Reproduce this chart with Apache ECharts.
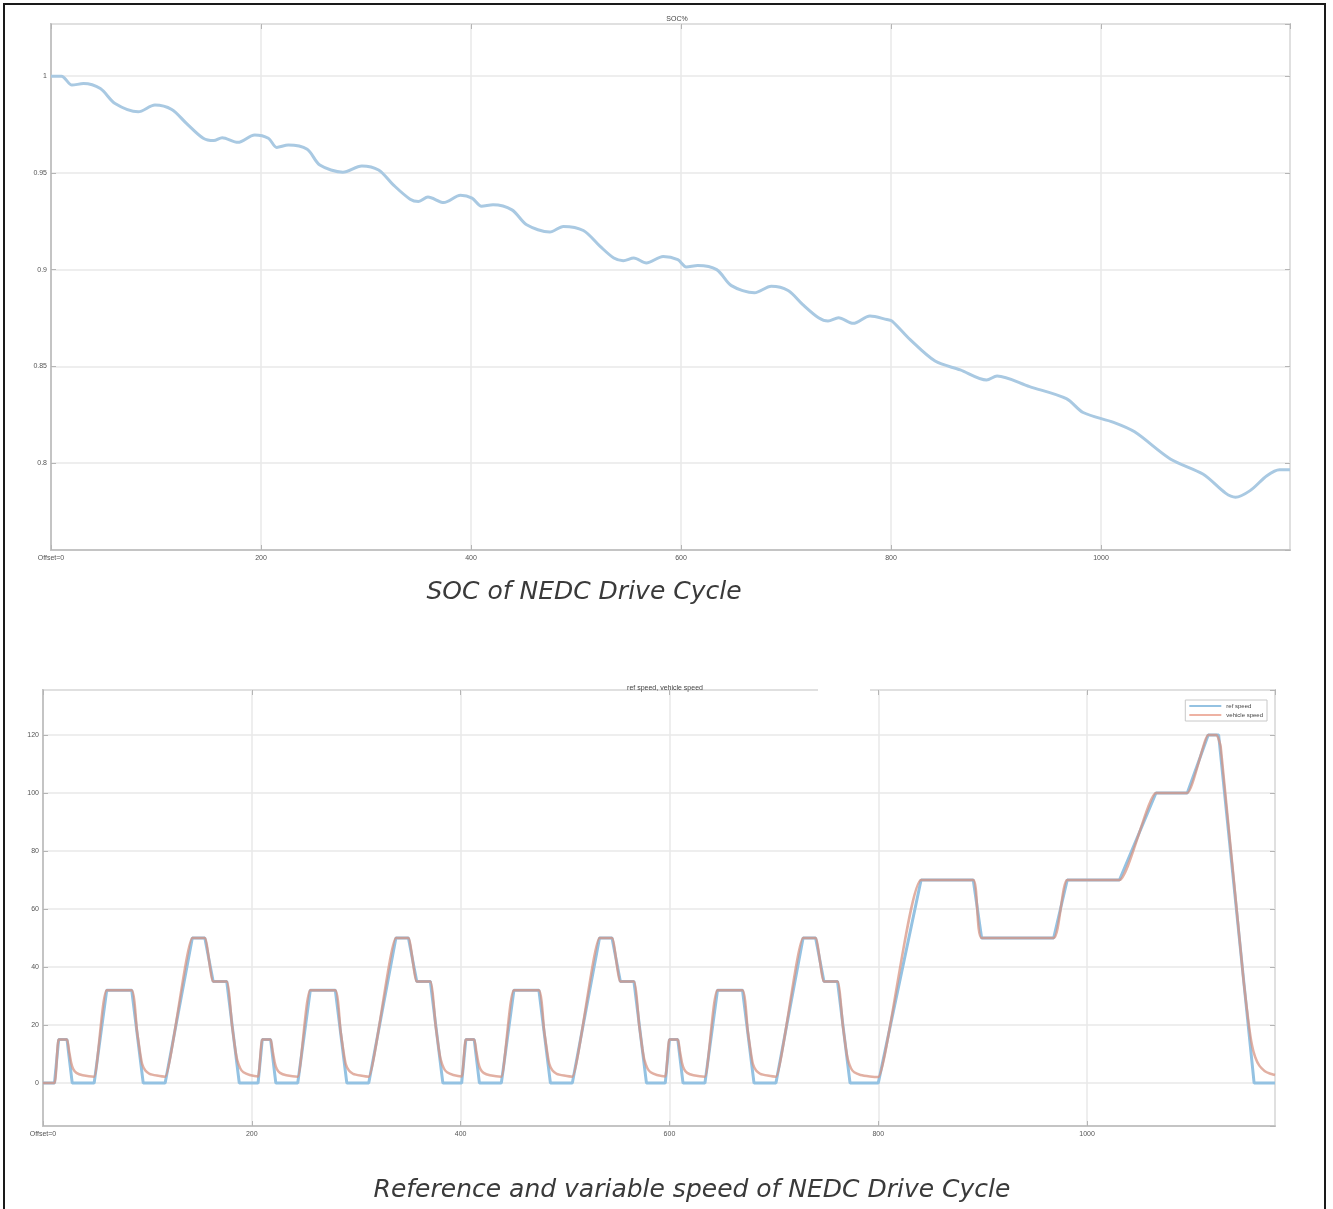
<!DOCTYPE html>
<html>
<head>
<meta charset="utf-8">
<script src="https://cdn.jsdelivr.net/npm/echarts@6/dist/echarts.min.js"></script>
<style>
html,body{margin:0;padding:0;background:#fff;}
#chart{width:1333px;height:1209px;}
</style>
</head>
<body>
<div id="chart"></div>
<script>
// ---- SOC of NEDC drive cycle ----
const socTime = [0,10,20,31,47,61,83,99,115,129,145,155,163,178,194,207,215,226,244,256,278,296,312,326,342,350,359,374,390,401,410,421,439,453,475,488,507,523,536,545,555,567,583,597,605,616,634,648,670,686,702,716,731,740,750,764,780,796,801,818,842,866,891,901,932,967,983,1012,1032,1066,1097,1128,1142,1158,1170,1180];
const socValue = [1.0,1.0,0.9954,0.9962,0.9936,0.9859,0.9816,0.9851,0.9828,0.9756,0.9679,0.9667,0.9682,0.9658,0.9696,0.9679,0.9632,0.9644,0.9622,0.9541,0.9504,0.9536,0.9515,0.9438,0.9364,0.9352,0.9375,0.9347,0.9384,0.9370,0.9328,0.9335,0.9309,0.9232,0.9194,0.9223,0.9202,0.9120,0.9060,0.9046,0.9060,0.9034,0.9068,0.9051,0.9014,0.9021,0.9000,0.8917,0.8880,0.8914,0.8892,0.8819,0.8751,0.8734,0.8751,0.8722,0.8760,0.8742,0.8734,0.8639,0.8527,0.8481,0.8429,0.8450,0.8395,0.8333,0.8261,0.8210,0.8161,0.8021,0.7943,0.7823,0.7857,0.7934,0.7965,0.7965];

// ---- Reference speed (km/h) ----
const refTime = [0,11,15,23,28,49,61,85,96,117,143,155,163,176,188,
  206,210,218,223,244,256,280,291,312,338,350,358,371,383,
  401,405,413,418,439,451,475,486,507,533,545,553,566,578,
  596,600,608,613,634,646,670,681,702,728,740,748,761,773,
  800,841,891,899,968,981,1031,1066,1096,1116,1126,1160,1180];
const refSpeed = [0,0,15,15,0,0,32,32,0,0,50,50,35,35,0,
  0,15,15,0,0,32,32,0,0,50,50,35,35,0,
  0,15,15,0,0,32,32,0,0,50,50,35,35,0,
  0,15,15,0,0,32,32,0,0,50,50,35,35,0,
  0,70,70,50,50,70,70,100,100,120,120,0,0];

// ---- Vehicle speed (km/h) ----
const vehTime = [0,11,15,23,25,27,29,32,38,49,61,85,90,93,95,98,102,109,117,143,155,163,176,181,184,186,189,192,198,206,
  210,218,220,222,224,227,233,244,256,280,285,288,290,293,297,304,312,338,350,358,371,376,379,381,384,387,393,401,
  405,413,415,417,419,422,428,439,451,475,480,483,485,488,492,499,507,533,545,553,566,571,574,576,579,582,588,596,
  600,608,610,612,614,617,623,634,646,670,675,678,680,683,687,694,702,728,740,748,761,766,769,771,774,777,783,792,800,
  841,891,899,968,981,1031,1066,1096,1116,1124,1128,1150,1155,1158,1161,1165,1170,1175,1180];
const vehSpeed = [0,0,15,15,11,7,4.8,3.5,2.7,2.2,32,32,18,10.5,6.5,4.3,3.2,2.6,2.2,50,50,35,35,20,12,8,5,3.7,2.8,2.3,
  15,15,11,7,4.8,3.5,2.7,2.2,32,32,18,10.5,6.5,4.3,3.2,2.6,2.2,50,50,35,35,20,12,8,5,3.7,2.8,2.3,
  15,15,11,7,4.8,3.5,2.7,2.2,32,32,18,10.5,6.5,4.3,3.2,2.6,2.2,50,50,35,35,20,12,8,5,3.7,2.8,2.3,
  15,15,11,7,4.8,3.5,2.7,2.2,32,32,18,10.5,6.5,4.3,3.2,2.6,2.2,50,50,35,35,20,12,8,5,3.7,2.8,2.3,2.1,
  70,70,50,50,70,70,100,100,120,120,116,35,20,13,9,6,4.2,3.3,2.8];

const xTickInterval = 200;

function pairs(a, b) { return a.map((t, i) => [t, b[i]]); }

const chart = echarts.init(document.getElementById('chart'), null, {renderer: 'canvas'});

const labelStyle = {fontSize: 7, color: '#555', fontFamily: 'Liberation Sans'};
const gridLineStyle = {color: '#e9e9e9', width: 1.5};
const axisLineStyle = {color: '#c4c4c4', width: 2};
const tickStyle = {color: '#b5b5b5', width: 1};

function xAxisMain(gridIndex) {
  return {
    type: 'value', gridIndex, min: 0, max: 1180, interval: xTickInterval,
    axisLine: {show: true, onZero: false, lineStyle: axisLineStyle},
    axisTick: {show: true, inside: true, length: 5, lineStyle: tickStyle},
    axisLabel: Object.assign({showMaxLabel: false, margin: 5,
      formatter: v => v === 0 ? 'Offset=0' : String(v)}, labelStyle),
    splitLine: {show: true, lineStyle: gridLineStyle}
  };
}
function xAxisTop(gridIndex) {
  return {
    type: 'value', gridIndex, position: 'top', min: 0, max: 1180, interval: xTickInterval,
    axisLine: {show: false, onZero: false}, axisLabel: {show: false}, splitLine: {show: false},
    axisTick: {show: true, inside: true, length: 5, lineStyle: tickStyle}
  };
}
function yAxisMain(gridIndex, min, max, split, fmt) {
  return {
    type: 'value', gridIndex, min, max, splitNumber: split,
    axisLine: {show: true, onZero: false, lineStyle: axisLineStyle},
    axisTick: {show: true, inside: true, length: 5, lineStyle: tickStyle},
    axisLabel: Object.assign({showMinLabel: false, showMaxLabel: false, margin: 4, formatter: fmt}, labelStyle),
    splitLine: {show: true, lineStyle: gridLineStyle}
  };
}
function yAxisRight(gridIndex, min, max, split) {
  return {
    type: 'value', gridIndex, position: 'right', min, max, splitNumber: split,
    axisLine: {show: false, onZero: false}, axisLabel: {show: false}, splitLine: {show: false},
    axisTick: {show: true, inside: true, length: 5, lineStyle: tickStyle}
  };
}

const captionFont = 'italic 25px "DejaVu Sans"';

const option = {
  backgroundColor: '#ffffff',
  animation: false,
  title: [
    {text: 'SOC%', left: 672, top: 11, textAlign: 'center',
     textStyle: {fontSize: 7, fontWeight: 'normal', color: '#444', fontFamily: 'Liberation Sans'}},
    {text: 'ref speed, vehicle speed', left: 660, top: 680, textAlign: 'center',
     textStyle: {fontSize: 7, fontWeight: 'normal', color: '#444', fontFamily: 'Liberation Sans'}}
  ],
  grid: [
    {left: 51, top: 24, width: 1239, height: 526, show: true, borderColor: '#c8c8c8', borderWidth: 2},
    {left: 43, top: 690, width: 1232, height: 436, show: true, borderColor: '#c8c8c8', borderWidth: 2}
  ],
  legend: {
    data: ['ref speed', 'vehicle speed'],
    right: 66, top: 700, orient: 'vertical', icon: 'rect',
    itemWidth: 32, itemHeight: 2, itemGap: 3,
    padding: [3, 4], borderColor: '#c8c8c8', borderWidth: 1, backgroundColor: '#fff',
    textStyle: {fontSize: 6, color: '#444', fontFamily: 'Liberation Sans'}
  },
  xAxis: [xAxisMain(0), xAxisTop(0), xAxisMain(1), xAxisTop(1)],
  yAxis: [
    yAxisMain(0, 0.755, 1.027, 5, v => String(+v.toFixed(2))),
    yAxisRight(0, 0.755, 1.027, 5),
    yAxisMain(1, -14.8, 135.5, 7, v => String(Math.round(v))),
    yAxisRight(1, -14.8, 135.5, 7)
  ],
  series: [
    {name: 'SOC', type: 'line', xAxisIndex: 0, yAxisIndex: 0, data: pairs(socTime, socValue),
     showSymbol: false, smooth: 0.3, lineStyle: {color: '#a9c9e2', width: 3}, itemStyle: {color: '#a9c9e2'}},
    {name: 'ref speed', type: 'line', xAxisIndex: 2, yAxisIndex: 2, data: pairs(refTime, refSpeed),
     showSymbol: false, lineStyle: {color: '#94c2e2', width: 3}, itemStyle: {color: '#94c2e2'}},
    {name: 'vehicle speed', type: 'line', xAxisIndex: 2, yAxisIndex: 2, data: pairs(vehTime, vehSpeed),
     showSymbol: false, smooth: 0.15, lineStyle: {color: 'rgba(215,145,128,0.72)', width: 2.5}, itemStyle: {color: '#eeb2a3'}}
  ],
  graphic: [
    {type: 'rect', shape: {x: 4, y: 4, width: 1321, height: 1215}, style: {fill: 'none', stroke: '#1a1a1a', lineWidth: 2}, z: 100},
    {type: 'rect', shape: {x: 818, y: 684, width: 52, height: 9}, style: {fill: '#ffffff'}, z: 90},
    {type: 'text', x: 584, y: 592, z: 100,
     style: {text: 'SOC of NEDC Drive Cycle', textAlign: 'center', textVerticalAlign: 'middle',
             font: captionFont, fill: '#3a3a3a'}},
    {type: 'text', x: 692, y: 1190, z: 100,
     style: {text: 'Reference and variable speed of NEDC Drive Cycle', textAlign: 'center', textVerticalAlign: 'middle',
             font: captionFont, fill: '#3a3a3a'}}
  ]
};
chart.setOption(option);
</script>
</body>
</html>
